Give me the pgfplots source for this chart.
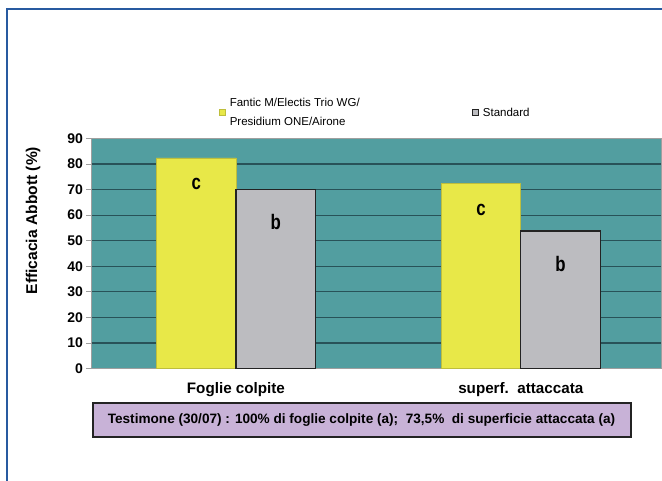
\documentclass[border=0pt]{standalone}
\usepackage{pgfplots}
\pgfplotsset{compat=1.18}
\usepackage{fontspec}
\setmainfont{Liberation Sans}
\newfontfamily\condb{Liberation Sans Bold}[FakeStretch=0.8]

\definecolor{framecol}{RGB}{40,90,160}
\definecolor{plotbg}{RGB}{82,158,160}
\definecolor{gridcol}{RGB}{40,82,88}
\definecolor{barY}{RGB}{232,232,72}
\definecolor{barYedge}{RGB}{190,190,60}
\definecolor{barG}{RGB}{188,188,192}
\definecolor{barGedge}{RGB}{35,35,35}
\definecolor{lavender}{RGB}{200,178,215}

\begin{document}
\begin{tikzpicture}[x=1pt,y=1pt]
\useasboundingbox (0,0) rectangle (662,481);
\fill[white] (0,0) rectangle (662,481);
\draw[framecol, line width=1.5pt] (7,-20) -- (7,472) -- (700,472);
\begin{axis}[
    at={(91.5pt,112.5pt)}, anchor=south west,
    width=570pt, height=230pt, scale only axis,
    xmin=-0.507, xmax=1.494, ymin=0, ymax=90,
    ybar=0pt, bar width=0.279,
    ytick={0,10,...,90},
    xtick={0,1},
    xticklabels={Foglie colpite, superf.\ \ attaccata},
    axis background/.style={fill=plotbg},
    axis line style={draw=gray!75},
    ymajorgrids,
    grid style={gridcol, line width=1.2pt},
    tick align=outside,
    major tick length=5pt,
    y tick style={draw=gray!75, line width=0.8pt},
    x tick style={draw=none},
    extra x ticks={0.5},
    extra x tick labels={},
    extra x tick style={major tick style={draw=gray!75!black, line width=0.8pt}},
    /pgf/number format/assume math mode=true,
    yticklabel style={font=\fontsize{14}{16}\selectfont\bfseries},
    xticklabel style={font=\fontsize{15.2}{18}\selectfont\bfseries, yshift=-5pt},
    ylabel={Efficacia Abbott (\%)},
    ylabel style={font=\fontsize{15.6}{18}\selectfont\bfseries,
                  at={(axis description cs:-0.1026,0.6435)}, anchor=center},
    legend columns=2,
    legend style={draw=none, fill=none,
                  at={(axis description cs:0.2184,1.1122)}, anchor=west,
                  font=\fontsize{11.5}{19.3}\selectfont,
                  nodes={align=left, inner xsep=4pt},
                  cells={anchor=west},
                  /tikz/every even column/.append style={column sep=108pt}},
    legend image code/.code={\draw[#1] (0pt,-3pt) rectangle (6pt,3pt);},
    nodes near coords style={anchor=center,
             font=\condb\fontsize{21}{24}\selectfont},
]
\addplot[fill=barY, draw=barYedge, line width=0.6pt,
         nodes near coords={c},
         every node near coord/.append style={yshift=-26.5pt}]
  coordinates {(0,82.4) (1,72.4)};
\addlegendentry{Fantic M/Electis Trio WG/\\Presidium ONE/Airone}
\addplot[fill=barG, draw=barGedge, line width=1.2pt,
         nodes near coords={b},
         every node near coord/.append style={yshift=-32.7pt}]
  coordinates {(0,70.0) (1,53.8)};
\addlegendentry{Standard}
\end{axis}
\node[draw=barGedge, line width=2pt, fill=lavender, minimum width=538pt,
      minimum height=34pt, inner sep=0pt,
      font=\fontsize{13.6}{16}\selectfont\bfseries] at (361.5,61)
  {Testimone (30/07) : 100\% di foglie colpite (a);\ \ 73,5\%\ \ di superficie attaccata (a)};
\end{tikzpicture}
\end{document}
